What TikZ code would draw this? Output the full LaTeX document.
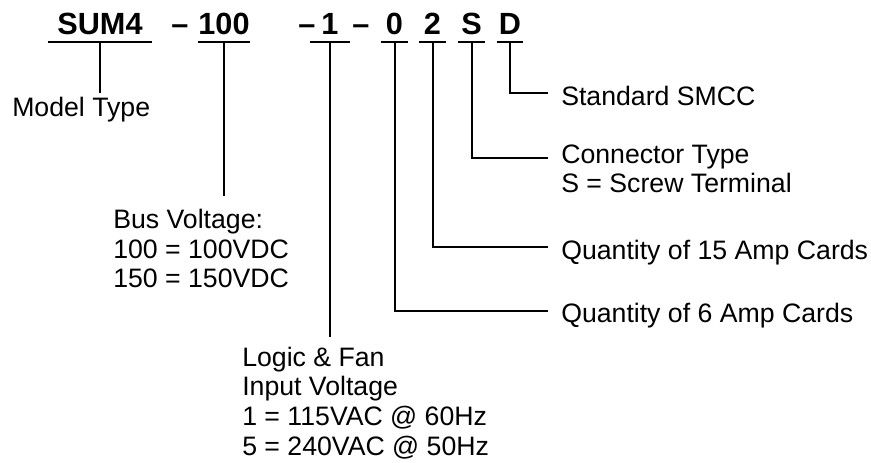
\documentclass[tikz,border=0pt]{standalone}
\usepackage{fontspec}
\setmainfont{Liberation Sans}
\usetikzlibrary{positioning, calc}
\tikzset{
  codepart/.style={font=\fontsize{23}{27}\selectfont\bfseries,
    anchor=base, inner xsep=0pt, inner ysep=5.25pt, text depth=0pt},
  dashpart/.style={font=\fontsize{23}{27}\selectfont\bfseries,
    anchor=base, inner sep=0pt},
  infolabel/.style={font=\fontsize{20}{22.2}\selectfont,
    anchor=base west, inner sep=0pt, align=left},
  bar/.style={line width=1.5pt, color=black}
}
\begin{document}
\begin{tikzpicture}[x=0.75pt, y=-0.75pt]
  \useasboundingbox (0,0) rectangle (871,463);

  % Part number
  \node[codepart, minimum width=78pt] (sum) at (100,35) {SUM4};
  \node[dashpart] (dashA) at (180,35) {\textendash};
  \node[codepart, minimum width=39pt] (bus) at (224,35) {100};
  \node[dashpart] (dashB) at (307,35) {\textendash};
  \node[codepart, minimum width=30pt] (logic) at (330,35) {1};
  \node[dashpart] (dashC) at (361,35) {\textendash};
  \node[codepart, minimum width=20.25pt] (six) at (394.5,35) {0};
  \node[codepart, minimum width=20.25pt] (fifteen) at (432.5,35) {2};
  \node[codepart, minimum width=20.25pt] (conn) at (471.5,35) {S};
  \node[codepart, minimum width=19.5pt] (std) at (510,35) {D};

  % Underlines
  \foreach \p in {sum, bus, logic, six, fifteen, conn, std}
    \draw[bar] (\p.south west) -- (\p.south east);

  % Labels below (base = last line)
  \node[infolabel] (mdltxt) at (12,117) {Model Type};
  \node[infolabel] (bustxt) at (113,288) {Bus Voltage:\\100 = 100VDC\\150 = 150VDC};
  \node[infolabel] (logictxt) at (242,455) {Logic \& Fan\\Input Voltage\\1 = 115VAC @ 60Hz\\5 = 240VAC @ 50Hz};

  % Labels at right
  \node[infolabel] (stdtxt) at (561,106) {Standard SMCC};
  \node[infolabel] (conntxt) at (561,193) {Connector Type\\S = Screw Terminal};
  \node[infolabel] (fifteentxt) at (561,260) {Quantity of 15 Amp Cards};
  \node[infolabel] (sixtxt) at (561,322) {Quantity of 6 Amp Cards};

  % Leaders down
  \draw[bar] (sum.south) -- ([yshift=18pt]sum.south |- mdltxt.base);
  \draw[bar] (bus.south) -- ([yshift=69pt]bus.south |- bustxt.base);
  \draw[bar] (logic.south) -- ([yshift=88.5pt]logic.south |- logictxt.base);

  % Leaders right
  \draw[bar] (std.south) |- ([xshift=-9.75pt, yshift=9.75pt]stdtxt.base west);
  \draw[bar] (conn.south) |- ([xshift=-9.75pt, yshift=26.25pt]conntxt.base west);
  \draw[bar] (fifteen.south) |- ([xshift=-9.75pt, yshift=9.75pt]fifteentxt.base west);
  \draw[bar] (six.south) |- ([xshift=-9.75pt, yshift=8.25pt]sixtxt.base west);
\end{tikzpicture}
\end{document}
